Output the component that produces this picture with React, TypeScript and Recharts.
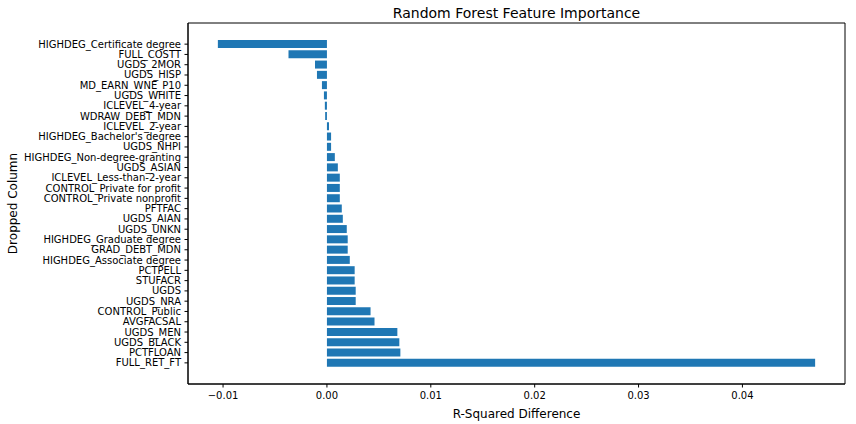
import React from 'react';
import { BarChart, Bar, XAxis, YAxis, CartesianGrid } from 'recharts';

const categories = [
  'HIGHDEG_Certificate degree',
  'FULL_COSTT',
  'UGDS_2MOR',
  'UGDS_HISP',
  'MD_EARN_WNE_P10',
  'UGDS_WHITE',
  'ICLEVEL_4-year',
  'WDRAW_DEBT_MDN',
  'ICLEVEL_2-year',
  "HIGHDEG_Bachelor's degree",
  'UGDS_NHPI',
  'HIGHDEG_Non-degree-granting',
  'UGDS_ASIAN',
  'ICLEVEL_Less-than-2-year',
  'CONTROL_Private for profit',
  'CONTROL_Private nonprofit',
  'PFTFAC',
  'UGDS_AIAN',
  'UGDS_UNKN',
  'HIGHDEG_Graduate degree',
  'GRAD_DEBT_MDN',
  'HIGHDEG_Associate degree',
  'PCTPELL',
  'STUFACR',
  'UGDS',
  'UGDS_NRA',
  'CONTROL_Public',
  'AVGFACSAL',
  'UGDS_MEN',
  'UGDS_BLACK',
  'PCTFLOAN',
  'FULL_RET_FT',
];

const importance = [
  -0.0105, -0.0037, -0.00115, -0.00096, -0.00048, -0.00029, -0.0002, -0.00017,
  0.0002, 0.0004, 0.0004, 0.00076, 0.00105, 0.00124, 0.00124, 0.00124,
  0.00143, 0.00153, 0.00191, 0.002, 0.002, 0.0022, 0.00267, 0.00267,
  0.00277, 0.00277, 0.0042, 0.00458, 0.00678, 0.00697, 0.00707, 0.047,
];

const xTicks = [-0.01, 0, 0.01, 0.02, 0.03, 0.04];
const xDomain: [number, number] = [-0.013375, 0.049875];

const FONT = '"DejaVu Sans", sans-serif';

const fmtX = (v: number) => v.toFixed(2).replace('-', '\u2212');

const YTick = (props: any) => {
  const { x, y, payload } = props;
  return (
    <text
      x={x}
      y={y}
      dy="0.35em"
      textAnchor="end"
      fontSize={10}
      fill="#000"
      fontFamily={FONT}
    >
      {payload.value}
    </text>
  );
};

const XTick = (props: any) => {
  const { x, y, payload } = props;
  return (
    <text
      x={x}
      y={y}
      dy="0.8em"
      textAnchor="middle"
      fontSize={10}
      fill="#000"
      fontFamily={FONT}
    >
      {fmtX(payload.value)}
    </text>
  );
};

export default function App() {
  const data = categories.map((name, i) => ({ name, value: importance[i] }));
  return (
    <div
      style={{
        position: 'absolute',
        left: 0,
        top: 0,
        width: 856,
        height: 424,
        background: '#fff',
        fontFamily: FONT,
      }}
    >
      <div
        style={{
          position: 'absolute',
          left: 188,
          width: 657,
          top: 5,
          textAlign: 'center',
          fontSize: 14,
          lineHeight: '16px',
          color: '#000',
        }}
      >
        Random Forest Feature Importance
      </div>
      <BarChart
        width={856}
        height={424}
        data={data}
        layout="vertical"
        margin={{ top: 23, right: 11, bottom: 0, left: 0 }}
        style={{ fontFamily: FONT }}
      >
        <CartesianGrid
          stroke="#000"
          strokeWidth={1}
          fill="none"
          horizontalCoordinatesGenerator={(p: any) => [p.offset.top, p.offset.top + p.offset.height]}
          verticalCoordinatesGenerator={(p: any) => [p.offset.left, p.offset.left + p.offset.width]}
        />
        <XAxis
          type="number"
          domain={xDomain}
          allowDataOverflow
          ticks={xTicks}
          height={40}
          tickSize={3.5}
          tickMargin={3.5}
          tick={<XTick />}
          axisLine={{ stroke: '#000', strokeWidth: 1 }}
          tickLine={{ stroke: '#000', strokeWidth: 1 }}
          label={{
            value: 'R-Squared Difference',
            position: 'insideBottom',
            offset: 6,
            style: { fontSize: 12, fill: '#000', fontFamily: FONT },
          }}
        />
        <YAxis
          type="category"
          dataKey="name"
          width={188}
          interval={0}
          padding={{ top: 16, bottom: 16 }}
          tickSize={3.5}
          tickMargin={3.5}
          tick={<YTick />}
          axisLine={{ stroke: '#000', strokeWidth: 1 }}
          tickLine={{ stroke: '#000', strokeWidth: 1 }}
          label={{
            value: 'Dropped Column',
            angle: -90,
            position: 'insideLeft',
            offset: 13,
            style: { fontSize: 12, fill: '#000', fontFamily: FONT, textAnchor: 'middle' },
          }}
        />
        <Bar dataKey="value" fill="#1f77b4" barSize={8} isAnimationActive={false} />
      </BarChart>
    </div>
  );
}
